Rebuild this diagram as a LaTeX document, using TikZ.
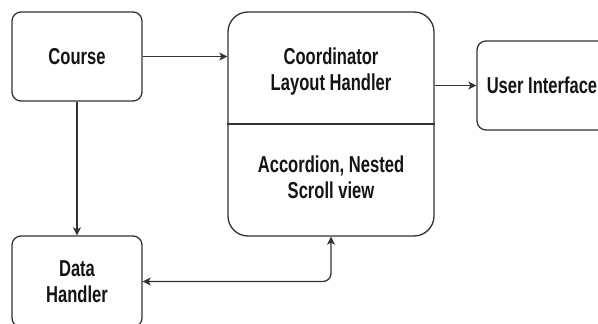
\documentclass[tikz,border=0pt]{standalone}
\usepackage{fontspec}
\setmainfont{Liberation Sans}[FakeStretch=0.72]
\usetikzlibrary{arrows.meta}
\begin{document}
\begin{tikzpicture}[x=1pt,y=-1pt,
  txt/.style={font=\bfseries\fontsize{23}{26}\selectfont, align=center, text=black!92},
  box/.style={draw=black!80, line width=1.3pt, rounded corners=9pt, inner sep=0pt, txt},
  lbl/.style={txt, inner sep=0pt},
  tip/.tip={Stealth[length=8pt,width=8pt,inset=2pt]},
  link/.style={draw=black!80, line width=1.3pt, -tip},
  dlink/.style={link, tip-tip}]
\useasboundingbox (0,0) rectangle (598,324);
\begin{scope}
  \clip (0,0) rectangle (598,324);
  % boxes
  \node[box, minimum width=130pt, minimum height=89pt] (course) at (77,56.5) {Course};
  \node[box, minimum width=130pt, minimum height=91pt] (data) at (77,281.5) {Data\\Handler};
  \node[box, rounded corners=20pt, minimum width=206pt, minimum height=224pt] (coord) at (331,124) {};
  \node[box, minimum width=130pt, minimum height=89pt] (ui) at (542,85.5) {User Interface};
  % compartments of the coordinator box
  \draw[draw=black!80, line width=1.3pt] (coord.west) -- (coord.east);
  \node[lbl] (coordtop) at (331,72) {Coordinator\\Layout Handler};
  \node[lbl] (coordbot) at (331,177) {Accordion, Nested\\Scroll view};
  % connectors
  \draw[link] (course.east) -- (course.east -| coord.west);
  \draw[link] (coord.east |- ui.west) -- (ui.west);
  \draw[link] (course.south) -- (data.north);
  \draw[dlink, rounded corners=8pt] (data.east) -| (coord.south);
\end{scope}
\end{tikzpicture}
\end{document}
